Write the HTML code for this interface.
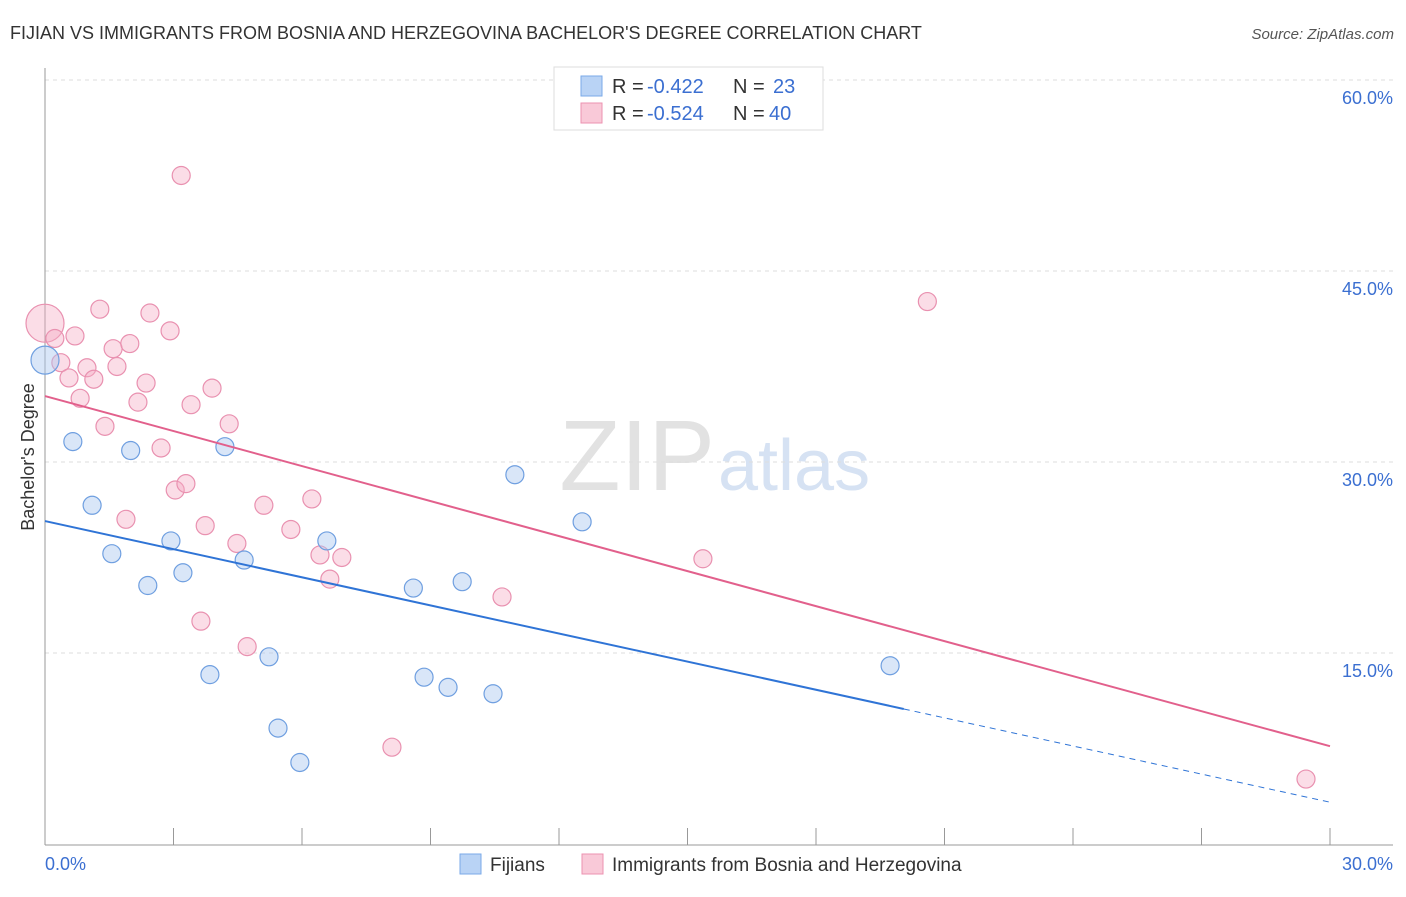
<!DOCTYPE html>
<html><head><meta charset="utf-8"><style>
body{margin:0;background:#fff;font-family:"Liberation Sans",sans-serif}
svg text{font-family:"Liberation Sans",sans-serif}
</style></head><body>
<svg id="c" width="1406" height="892">
<text x="10" y="39" font-size="18" fill="#333">FIJIAN VS IMMIGRANTS FROM BOSNIA AND HERZEGOVINA BACHELOR'S DEGREE CORRELATION CHART</text>
<text x="1394" y="39" font-size="15" fill="#555" font-style="italic" text-anchor="end">Source: ZipAtlas.com</text>
<text x="715" y="490" font-size="100" fill="#e2e2e2" font-family="Liberation Serif" text-anchor="end">ZIP</text>
<text x="718" y="490" font-size="72" fill="#d6e2f3">atlas</text>
<text transform="translate(34,457) rotate(-90)" font-size="18" fill="#333" text-anchor="middle">Bachelor's Degree</text>
<g id="grid"></g><g id="pts"></g><g id="lines"></g>
<g>
<rect x="554" y="67" width="269" height="63" fill="#fff" stroke="#ddd"/>
<rect x="581" y="76" width="21" height="20" fill="#b9d3f5" stroke="#7aaae8"/>
<rect x="581" y="103" width="21" height="20" fill="#f9c9d8" stroke="#ec92b0"/>
<text y="93" font-size="20" fill="#333"><tspan x="612">R =</tspan><tspan x="647" fill="#3b6fd1">-0.422</tspan><tspan x="733">N =</tspan><tspan x="773" fill="#3b6fd1">23</tspan></text>
<text y="120" font-size="20" fill="#333"><tspan x="612">R =</tspan><tspan x="647" fill="#3b6fd1">-0.524</tspan><tspan x="733">N =</tspan><tspan x="769" fill="#3b6fd1">40</tspan></text>
</g>
<g>
<rect x="460" y="854" width="21" height="20" fill="#b9d3f5" stroke="#7aaae8"/>
<text x="490" y="871" font-size="19" fill="#333">Fijians</text>
<rect x="582" y="854" width="21" height="20" fill="#f9c9d8" stroke="#ec92b0"/>
<text x="612" y="871" font-size="19" fill="#333">Immigrants from Bosnia and Herzegovina</text>
</g>
</svg>
<script>
const xTicks=[0,3,6,9,12,15,18,21,24,27,30];
const yTicks=[15,30,45,60];
const blueX=[0,0.65,2.0,1.1,1.56,2.4,2.94,3.22,4.2,4.65,3.85,5.23,5.44,5.95,6.58,8.6,9.74,8.85,9.41,10.46,10.97,12.54,19.73];
const blueY=[38.0,31.6,30.9,26.6,22.8,20.3,23.8,21.3,31.2,22.3,13.3,14.7,9.1,6.4,23.8,20.1,20.6,13.1,12.3,11.8,29.0,25.3,14.0];
const pinkX=[0,0.23,0.37,0.56,0.82,1.28,0.7,0.98,1.14,1.4,1.59,1.68,1.98,2.17,2.36,2.45,2.92,2.71,3.18,3.41,3.9,4.3,3.04,3.29,1.89,3.74,4.48,5.11,5.74,6.23,6.42,6.93,6.65,3.64,4.72,8.1,10.67,15.36,20.6,29.44];
const pinkY=[40.9,39.7,37.8,36.6,35.0,42.0,39.9,37.4,36.5,32.8,38.9,37.5,39.3,34.7,36.2,41.7,40.3,31.1,52.5,34.5,35.8,33.0,27.8,28.3,25.5,25.0,23.6,26.6,24.7,27.1,22.7,22.5,20.8,17.5,15.5,7.6,19.4,22.4,42.6,5.1];
const blueTrend=[25.36,3.28];
const pinkTrend=[35.18,7.68];
const blueSolidEnd=20.05;
const X=v=>45+v*42.833, Y=v=>80+(60-v)*12.733;
const NS='http://www.w3.org/2000/svg';
function mk(p,t,a){const e=document.createElementNS(NS,t);for(const k in a)e.setAttribute(k,a[k]);p.appendChild(e);return e;}
const grid=document.getElementById('grid');
yTicks.forEach(v=>{
 const l=mk(grid,'line',{x1:45,x2:1393,y1:Y(v),y2:Y(v),stroke:'#ddd','stroke-dasharray':'4 4'});
 
 
 const t=mk(grid,'text',{x:1393,y:Y(v)+24,'font-size':18,fill:'#3b6fd1','text-anchor':'end'});
 t.textContent=v.toFixed(1)+'%';
 
 
});
const ax=mk(grid,'line',{x1:45,x2:45,y1:68,y2:845,stroke:'#999'});


const bx=mk(grid,'line',{x1:45,x2:1393,y1:845,y2:845,stroke:'#999'});


xTicks.forEach(v=>{
 const l=mk(grid,'line',{x1:X(v),x2:X(v),y1:828,y2:845,stroke:'#999'});
 
 
});
[[0,'start'],[30,'end']].forEach(([v,a])=>{
 const t=mk(grid,'text',{x:v?1393:45,y:870,'font-size':18,fill:'#3b6fd1','text-anchor':a});
 t.textContent=v.toFixed(1)+'%';
 
 
});
const pts=document.getElementById('pts');
pinkX.forEach((x,i)=>{
 const c=mk(pts,'circle',{cx:X(x),cy:Y(pinkY[i]),r:i==0?19:9,fill:'rgba(245,170,195,0.4)',stroke:'#e991b0','stroke-width':1.2});
 
 
});
blueX.forEach((x,i)=>{
 const c=mk(pts,'circle',{cx:X(x),cy:Y(blueY[i]),r:i==0?14:9,fill:'rgba(170,200,240,0.45)',stroke:'#6f9fe0','stroke-width':1.2});
 
 
});
const lines=document.getElementById('lines');
const bAt=v=>blueTrend[0]+(blueTrend[1]-blueTrend[0])*v/30;
const l1=mk(lines,'line',{x1:X(0),y1:Y(bAt(0)),x2:X(blueSolidEnd),y2:Y(bAt(blueSolidEnd)),stroke:'#2f74d6','stroke-width':2});


const l2=mk(lines,'line',{x1:X(blueSolidEnd),y1:Y(bAt(blueSolidEnd)),x2:X(30),y2:Y(bAt(30)),stroke:'#2f74d6','stroke-width':1,'stroke-dasharray':'6 5'});


const l3=mk(lines,'line',{x1:X(0),y1:Y(pinkTrend[0]),x2:X(30),y2:Y(pinkTrend[1]),stroke:'#e2608c','stroke-width':2});


</script>
</body></html>
